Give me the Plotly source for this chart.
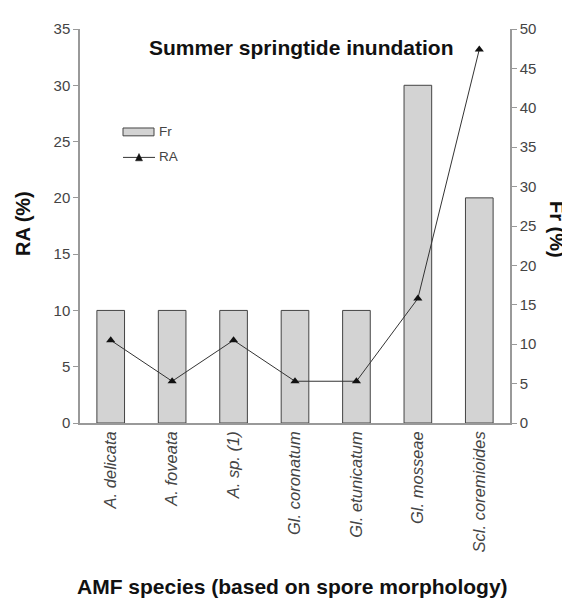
import plotly.graph_objects as go

species = ["A. delicata", "A. foveata", "A. sp. (1)", "Gl. coronatum",
           "Gl. etunicatum", "Gl. mosseae", "Scl. coremioides"]
fr_values = [10, 10, 10, 10, 10, 30, 20]
ra_values = [10.5, 5.3, 10.5, 5.3, 5.3, 15.8, 47.4]
left_ticks = [0, 5, 10, 15, 20, 25, 30, 35]
right_ticks = [0, 5, 10, 15, 20, 25, 30, 35, 40, 45, 50]

FONT = "Arial, Liberation Sans, sans-serif"

# page body has an 8px margin; plot area on screen: x 80..510, y 21..423
OFF = 8
L, R, T, B = 80, 510, 21, 423
W, H = 570 - OFF, 601 - OFF


def px(sx):
    return (sx - L) / (R - L)


def py(sy):
    return (B - sy) / (B - T)


fig = go.Figure()
fig.add_trace(go.Bar(
    x=species, y=fr_values, name="Fr", yaxis="y", showlegend=False,
    marker=dict(color="#d3d3d3", line=dict(color="#444444", width=1)),
    width=0.45,
))
fig.add_trace(go.Scatter(
    x=species, y=ra_values, name="RA", yaxis="y2", mode="lines+markers",
    showlegend=False,
    line=dict(color="#333333", width=1),
    marker=dict(symbol="triangle-up", size=8, color="#111111"),
))

tickfont = dict(family=FONT, size=15, color="#444444")
title_font = dict(family=FONT, size=21, color="#111111")
ytitle_font = dict(family=FONT, size=20, color="#111111")

fig.update_layout(
    width=W, height=H,
    margin=dict(l=L - OFF, r=W - (R - OFF), t=T - OFF, b=H - (B - OFF)),
    paper_bgcolor="white", plot_bgcolor="white",
    font=dict(family=FONT, size=12, color="#333333"),
    xaxis=dict(
        type="category", tickangle=-90, showline=True, linecolor="#999999",
        linewidth=1.5, ticks="", showgrid=False,
        tickfont=dict(family=FONT, size=16.5, color="#444444"),
        tickvals=species,
        ticktext=["<i>%s</i>" % s for s in species],
    ),
    yaxis=dict(
        range=[0, 35], tickvals=left_ticks, showline=True, linecolor="#999999",
        linewidth=1.5, ticks="outside", ticklen=5, tickcolor="#999999",
        showgrid=False, zeroline=False, tickfont=tickfont,
    ),
    yaxis2=dict(
        range=[0, 50], tickvals=right_ticks, overlaying="y", side="right",
        showline=True, linecolor="#999999", linewidth=1.5, ticks="outside",
        ticklen=5, tickcolor="#999999", showgrid=False, zeroline=False,
        tickfont=tickfont,
    ),
    annotations=[
        dict(text="<b>Summer springtide inundation</b>", x=px(301), y=py(40),
             xref="paper", yref="paper", xanchor="center", yanchor="middle",
             showarrow=False, font=title_font),
        dict(text="<b>RA (%)</b>", x=px(23), y=py(220), xref="paper", yref="paper",
             xanchor="center", yanchor="middle",
             showarrow=False, textangle=-90, font=ytitle_font),
        dict(text="<b>Fr (%)</b>", x=px(557), y=py(225), xref="paper", yref="paper",
             xanchor="center", yanchor="middle",
             showarrow=False, textangle=90, font=ytitle_font),
        dict(text="<b>AMF species (based on spore morphology)</b>", x=px(292), y=py(590),
             xref="paper", yref="paper", xanchor="center", yanchor="middle",
             showarrow=False, font=title_font),
        # legend labels
        dict(text="Fr", x=px(157), y=py(126), xref="paper", yref="paper",
             xanchor="left", yanchor="middle", showarrow=False,
             font=dict(family=FONT, size=13.5, color="#444444")),
        dict(text="RA", x=px(157), y=py(151), xref="paper", yref="paper",
             xanchor="left", yanchor="middle", showarrow=False,
             font=dict(family=FONT, size=13.5, color="#444444")),
    ],
    shapes=[
        # legend symbols
        dict(type="rect", xref="paper", yref="paper",
             x0=px(123), x1=px(154), y0=py(130), y1=py(122),
             fillcolor="#d3d3d3", line=dict(color="#444444", width=1)),
        dict(type="line", xref="paper", yref="paper",
             x0=px(123), x1=px(155), y0=py(152), y1=py(152),
             line=dict(color="#333333", width=1)),
        dict(type="path", xref="paper", yref="paper",
             path="M %f,%f L %f,%f L %f,%f Z" % (px(135.5), py(155.5), px(142.5), py(155.5),
                                                 px(139), py(148)),
             fillcolor="#111111", line=dict(color="#111111", width=0.5)),
    ],
)

fig.write_html("out.html")
